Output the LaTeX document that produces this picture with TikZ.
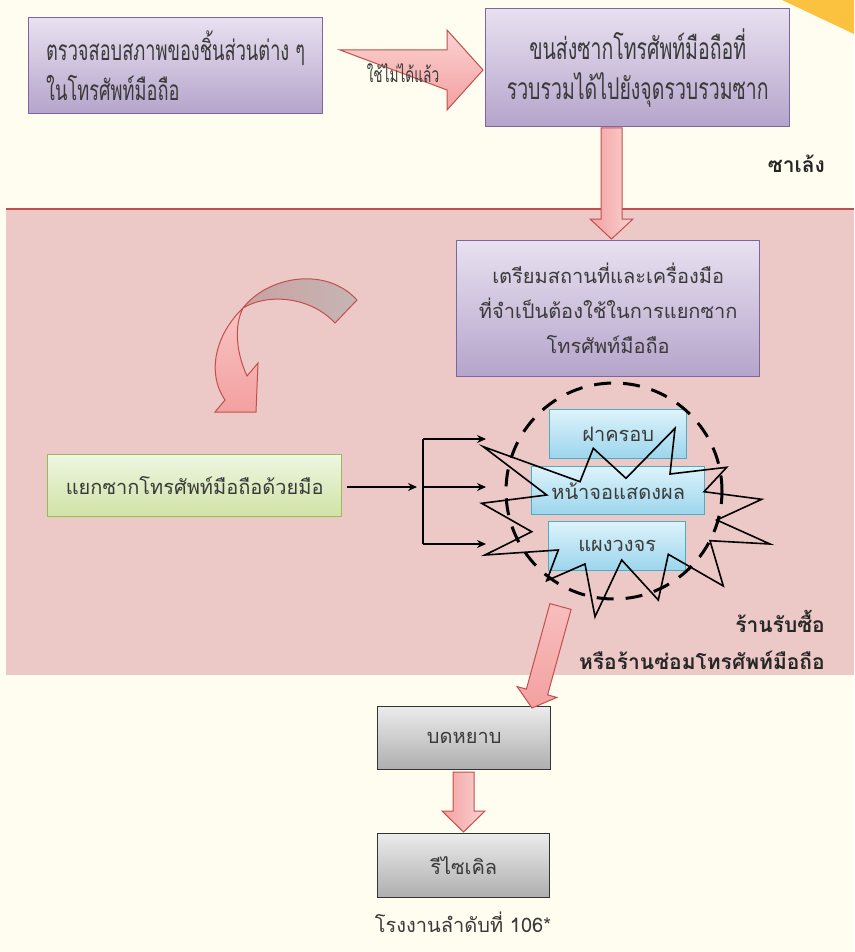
\documentclass[tikz,border=0pt]{standalone}
\usepackage{fontspec}
\newfontfamily\thai[Script=Thai]{Loma}
\newfontfamily\thain[Script=Thai,FakeStretch=0.65]{Loma}
\usetikzlibrary{arrows.meta}
\definecolor{bgcream}{HTML}{FFFDEF}
\definecolor{bandpink}{HTML}{ECC9C7}
\definecolor{bandred}{HTML}{C0504D}
\definecolor{yel}{HTML}{FBC23F}
\definecolor{ptop}{HTML}{E8E1F0}
\definecolor{pbot}{HTML}{B5A4CB}
\definecolor{pline}{HTML}{8064A2}
\definecolor{gtop}{HTML}{EEF6E2}
\definecolor{gbot}{HTML}{CFE3A4}
\definecolor{gline}{HTML}{9BBB59}
\definecolor{ctop}{HTML}{DDF3FB}
\definecolor{cbot}{HTML}{9BD5EC}
\definecolor{cline}{HTML}{4BACC6}
\definecolor{grtop}{HTML}{EBEBEB}
\definecolor{grbot}{HTML}{AEAEAE}
\definecolor{grline}{HTML}{333333}
\definecolor{adark}{HTML}{F4A0A0}
\definecolor{alight}{HTML}{FAD2D2}
\definecolor{aline}{HTML}{C0504D}
\definecolor{ribtop}{HTML}{C9A2A2}
\definecolor{ribbot}{HTML}{C6B5B4}
\definecolor{txt}{HTML}{3A3A3A}
\begin{document}
\begin{tikzpicture}[x=1pt,y=-1pt,
  boxbase/.style={line width=1.4pt, anchor=north west, inner sep=0pt, text=txt},
  pbox/.style={boxbase, draw=pline, top color=ptop, bottom color=pbot},
  gbox/.style={boxbase, draw=gline, top color=gtop, bottom color=gbot},
  cbox/.style={boxbase, draw=cline, top color=ctop, bottom color=cbot},
  grbox/.style={boxbase, draw=grline, top color=grtop, bottom color=grbot},
  narrowtxt/.style={font=\thain\fontsize{30}{40}\selectfont},
  loomtxt/.style={font=\thai\fontsize{20}{35}\selectfont},
  boldlabel/.style={font=\thai\bfseries\fontsize{21}{39}\selectfont, text=black!85, inner sep=0pt},
  blockarrow/.style={draw=aline, line width=1pt, line join=miter},
  thinarrow/.style={line width=1.1pt, -{Stealth[length=9pt,width=8pt]}},
  burst/.style={line width=1.6pt, line join=miter},
]
\useasboundingbox (0,0) rectangle (854,952);
\fill[bgcream] (0,0) rectangle (854,952);
\fill[yel] (782,0) -- (854,0) -- (854,34) -- cycle;
% band
\fill[bandpink] (6,208) rectangle (854,675);
\draw[bandred, line width=2pt] (6,208.5) -- (854,208.5);

% top boxes
\node[pbox, font=\thain\fontsize{28}{40}\selectfont, minimum width=294pt, minimum height=96pt, align=left] (b1) at (28,17)
  {ตรวจสอบสภาพของชิ้นส่วนต่าง~ๆ\\ในโทรศัพท์มือถือ};
\node[pbox, narrowtxt, minimum width=304pt, minimum height=118pt, align=center] (b2) at (485,8)
  {ขนส่งซากโทรศัพท์มือถือที่\\รวบรวมได้ไปยังจุดรวบรวมซาก};

% block arrow b1 -> b2
\coordinate (a1s) at (340,70);
\coordinate (a1t) at (483,70);
\path[blockarrow, top color=alight, bottom color=adark]
  (a1s) ++(0,-20) -- (447,50) -- (447,30) -- (a1t) -- (447,110) -- (447,90) -- ([yshift=20pt]a1s) -- cycle;
\node[font=\thain\fontsize{21}{22}\selectfont, text=txt] (a1lab) at (403,73) {ใช้ไม่ได้แล้ว};

\node[boldlabel, anchor=east] (salaeng) at (825,164) {ซาเล้ง};

% box 3
\node[pbox, loomtxt, minimum width=303pt, minimum height=136pt, align=center] (b3) at (456,240)
  {เตรียมสถานที่และเครื่องมือ\\ที่จำเป็นต้องใช้ในการแยกซาก\\โทรศัพท์มือถือ};

% block arrow b2 -> b3
\coordinate (a2t) at (611.5,239);
\path[blockarrow, left color=adark, right color=alight]
  (601,128) -- (622,128) -- (622,219) -- (633,219) -- (a2t) -- (590,219) -- (601,219) -- cycle;

% curved arrow
\path[draw=aline, line width=1pt, left color=ribtop, right color=ribbot]
  (243,308) .. controls (268,276) and (326,266) .. (357,300) -- (335,323)
  .. controls (312,298) and (270,292) .. (243,308) -- cycle;
\path[draw=aline, line width=1pt, top color=alight!70!adark, bottom color=adark, line join=miter]
  (243,308) .. controls (216,334) and (206,372) .. (225,400) -- (215,412) -- (256,412) -- (258,363) -- (247,376)
  .. controls (236,352) and (234,326) .. (243,308) -- cycle;

% green box
\node[gbox, loomtxt, minimum width=294pt, minimum height=62pt] (gr) at (47,454) {แยกซากโทรศัพท์มือถือด้วยมือ};

% bracket connectors
\coordinate (bt) at (423,439);
\coordinate (bm) at (423,487);
\coordinate (bb) at (423,544);
\coordinate (et) at (486,439);
\coordinate (em) at (486,487);
\coordinate (eb) at (486,544);
\draw[thinarrow, shorten <=5pt, shorten >=6pt] (gr.east |- bm) -- (bm);
\draw[line width=1.1pt] (bt) -- (bb);
\draw[thinarrow] (bt) -- (et);
\draw[thinarrow] (bm) -- (em);
\draw[thinarrow] (bb) -- (eb);

% cyan boxes
\node[cbox, loomtxt, minimum width=137pt, minimum height=49pt] (c1) at (549,409) {ฝาครอบ};
\node[cbox, loomtxt, minimum width=173pt, minimum height=48pt] (c2) at (531,466) {หน้าจอแสดงผล};
\node[cbox, loomtxt, minimum width=137pt, minimum height=49pt] (c3) at (548,521) {แผงวงจร};

% dashed circle
\draw[line width=3pt, dash pattern=on 17pt off 12pt, dash phase=4pt] (614,491) circle [radius=108];

% burst
\draw[burst] (483.3,446.7) -- (580,481.7) -- (593.3,448.3) -- (626,478.3) -- (675,428.3) -- (670,474)
  -- (726.7,467.3) -- (704,491.7) -- (761.7,499.3) -- (716.7,520) -- (770,544) -- (710,540.7)
  -- (723.3,586) -- (668.3,554.3) -- (658.3,600) -- (621.7,560) -- (595,616.7) -- (585,564)
  -- (546.7,580.7) -- (558.3,550) -- (485,555) -- (531.7,531.7) -- (481.7,503.3) -- (546.7,495) -- cycle;

% labels shop
\node[boldlabel, anchor=east] (shop1) at (825,621) {ร้านรับซื้อ};
\node[boldlabel, anchor=east] (shop2) at (825,660) {หรือร้านซ่อมโทรศัพท์มือถือ};

% gray boxes
\node[grbox, loomtxt, minimum width=173pt, minimum height=63pt] (g1) at (377,706) {บดหยาบ};
\node[grbox, loomtxt, minimum width=172pt, minimum height=64pt] (g2) at (377,833) {รีไซเคิล};

% diagonal arrow to g1
\coordinate (a3t) at (532,708);
\path[blockarrow, top color=alight!60!adark, bottom color=adark]
  (549.9,603.6) -- (571.1,609.4) -- (547.6,694.9) -- (556.9,697.4) -- (a3t) -- (517.1,686.6) -- (526.4,689.1) -- cycle;

% arrow g1 -> g2
\coordinate (a4t) at (463.5,832);
\path[blockarrow, left color=adark, right color=alight]
  (453,772) -- (474,772) -- (474,811) -- (485,811) -- (a4t) -- (442,811) -- (453,811) -- cycle;

\node[font=\thai\fontsize{20}{22}\selectfont, text=txt] (foot) at (463,922) {โรงงานลำดับที่ 106*};
\end{tikzpicture}
\end{document}
